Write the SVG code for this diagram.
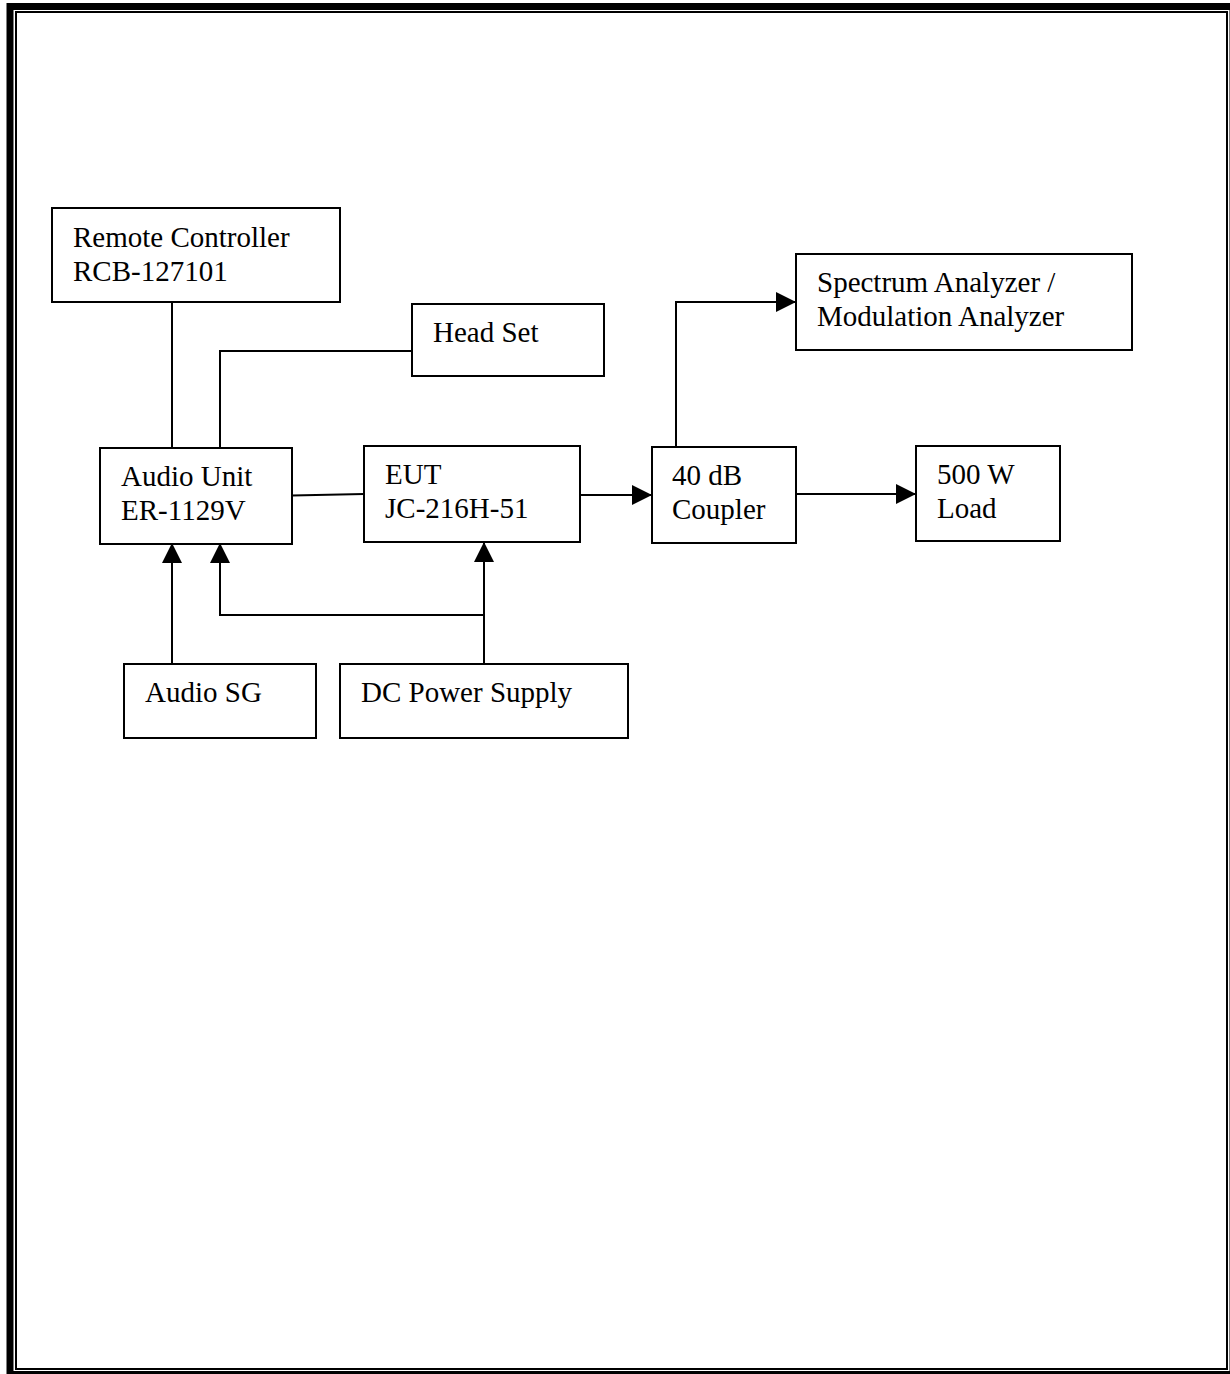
<svg xmlns="http://www.w3.org/2000/svg" width="1230" height="1374" viewBox="0 0 1230 1374">
<style>
.box{fill:#fff;stroke:#000;stroke-width:2}
.t{font-family:"Liberation Serif","Times New Roman",serif;font-size:29px;fill:#000}
.ln{fill:none;stroke:#000;stroke-width:2}
</style>
<defs>
<marker id="ah" markerWidth="20" markerHeight="20" refX="20" refY="10" orient="auto" markerUnits="userSpaceOnUse">
<path d="M0,0 L20,10 L0,20 Z" fill="#000"/>
</marker>
</defs>
<rect width="1230" height="1374" fill="#fff"/>
<g id="frame">
<rect x="10" y="6.5" width="1223" height="1368" fill="none" stroke="#000" stroke-width="7"/>
<rect x="16" y="12" width="1211" height="1357" fill="none" stroke="#000" stroke-width="2"/>
</g>
<g id="connectors">
<line class="ln" x1="172" y1="302" x2="172" y2="448"/>
<polyline class="ln" points="220,448 220,351 412,351"/>
<polyline class="ln" points="292,495.5 364,494"/>
<line class="ln" x1="580" y1="495" x2="652" y2="495" marker-end="url(#ah)"/>
<polyline class="ln" points="676,447 676,302 796,302" marker-end="url(#ah)"/>
<line class="ln" x1="796" y1="494" x2="916" y2="494" marker-end="url(#ah)"/>
<line class="ln" x1="172" y1="664" x2="172" y2="543" marker-end="url(#ah)"/>
<polyline class="ln" points="484,664 484,615 220,615 220,543" marker-end="url(#ah)"/>
<line class="ln" x1="484" y1="615" x2="484" y2="542" marker-end="url(#ah)"/>
</g>
<g id="remote">
<rect class="box" x="52" y="208" width="288" height="94"/>
<text class="t" x="73" y="247">Remote Controller</text>
<text class="t" x="73" y="281">RCB-127101</text>
</g>
<g id="headset">
<rect class="box" x="412" y="304" width="192" height="72"/>
<text class="t" x="433" y="342">Head Set</text>
</g>
<g id="spectrum">
<rect class="box" x="796" y="254" width="336" height="96"/>
<text class="t" x="817" y="292">Spectrum Analyzer /</text>
<text class="t" x="817" y="326">Modulation Analyzer</text>
</g>
<g id="audiounit">
<rect class="box" x="100" y="448" width="192" height="96"/>
<text class="t" x="121" y="486">Audio Unit</text>
<text class="t" x="121" y="520">ER-1129V</text>
</g>
<g id="eut">
<rect class="box" x="364" y="446" width="216" height="96"/>
<text class="t" x="385" y="484">EUT</text>
<text class="t" x="385" y="518">JC-216H-51</text>
</g>
<g id="coupler">
<rect class="box" x="652" y="447" width="144" height="96"/>
<text class="t" x="672" y="485">40 dB</text>
<text class="t" x="672" y="519">Coupler</text>
</g>
<g id="load">
<rect class="box" x="916" y="446" width="144" height="95"/>
<text class="t" x="937" y="484">500 W</text>
<text class="t" x="937" y="518">Load</text>
</g>
<g id="audiosg">
<rect class="box" x="124" y="664" width="192" height="74"/>
<text class="t" x="145" y="702">Audio SG</text>
</g>
<g id="dcpower">
<rect class="box" x="340" y="664" width="288" height="74"/>
<text class="t" x="361" y="702">DC Power Supply</text>
</g>
</svg>
